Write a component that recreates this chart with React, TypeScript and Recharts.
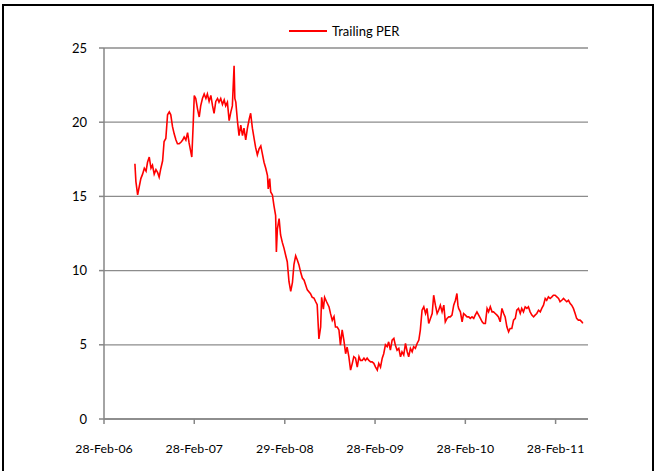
import React from 'react';
import { LineChart, Line, XAxis, YAxis, CartesianGrid } from 'recharts';

// x values are days after 28-Feb-2006
const days: number[] = [
  125, 129, 136, 143, 149, 156, 163, 170, 176, 183, 190, 196, 203, 210, 217, 223, 230, 237, 243, 250,
  257, 264, 270, 277, 284, 291, 297, 304, 311, 318, 324, 331, 338, 344, 351, 355, 361, 365, 371, 378,
  385, 391, 398, 405, 412, 418, 425, 432, 439, 445, 452,
  459, 465, 472, 479, 486, 492, 499, 506, 513, 519, 526, 529, 533, 540, 546, 553, 560, 566, 573, 580,
  587, 593, 600, 607, 613, 620, 627, 634, 640, 647, 654, 661, 664, 670, 674, 681, 687, 694, 697, 701,
  708, 714, 721, 728, 735, 741, 748, 755, 762, 768, 775, 782, 788, 795, 802,
  809, 822, 835, 842, 849, 856, 862, 869, 876, 880, 887, 892, 900, 910, 916, 923, 930, 936, 943, 950,
  956, 963, 970, 977, 983, 990, 997, 1004, 1010, 1017, 1024, 1031, 1037, 1044, 1051, 1057, 1064, 1071,
  1078, 1084, 1091, 1098, 1105, 1111, 1118, 1125, 1131, 1138,
  1145, 1151, 1158, 1165, 1172, 1178, 1185, 1192, 1199, 1205, 1212, 1219, 1226, 1232, 1239, 1246, 1252,
  1259, 1266, 1273, 1279, 1286, 1293, 1300, 1306, 1313, 1320, 1327, 1333, 1340, 1347, 1353, 1360, 1367,
  1374, 1380, 1387, 1394, 1400, 1407, 1414, 1421, 1427, 1431, 1434, 1441, 1448, 1454, 1461, 1468, 1475,
  1481, 1488, 1495, 1501, 1508, 1515, 1522, 1529, 1535, 1542,
  1549, 1555, 1562, 1569, 1575, 1582, 1589, 1595, 1602, 1609, 1616, 1622, 1629, 1636, 1642, 1649, 1656,
  1663, 1669, 1676, 1683, 1689, 1696, 1703, 1710, 1716, 1723, 1730, 1737, 1743, 1750, 1757, 1764, 1770,
  1777, 1784, 1790, 1797, 1804, 1811, 1817, 1824, 1831, 1838, 1844, 1851, 1858, 1865, 1871, 1878, 1885,
  1891, 1898, 1905, 1911, 1918, 1925, 1932, 1936,
];

const trailingPER: number[] = [
  17.2, 16.0, 15.1, 15.7, 16.2, 16.5, 16.9, 16.7, 17.3, 17.65, 16.9, 17.1, 16.5, 16.8, 16.6, 16.3, 16.9, 17.4, 18.7, 18.9,
  20.5, 20.7, 20.5, 19.7, 19.2, 18.8, 18.55, 18.55, 18.65, 18.8, 19.0, 18.8, 19.3, 18.6, 18.0, 17.65, 20.0, 21.8, 21.6, 20.9,
  20.35, 21.1, 21.6, 21.9, 21.6, 21.9, 21.4, 21.8, 21.1, 20.6, 21.4,
  21.6, 21.35, 21.6, 21.2, 21.5, 21.1, 21.35, 20.1, 20.7, 21.1, 23.8, 21.6, 21.35, 20.0, 19.1, 19.8, 19.1, 19.6, 18.8, 19.6,
  20.2, 20.6, 19.6, 18.9, 18.3, 17.8, 18.2, 18.4, 17.9, 17.3, 16.9, 16.4, 15.5, 16.2, 15.3, 15.1, 14.4, 13.7, 11.25, 12.8,
  13.5, 12.4, 11.9, 11.5, 11.0, 10.6, 9.25, 8.6, 9.2, 10.4, 11.0, 10.7, 10.4, 9.9, 9.5,
  9.35, 8.7, 8.45, 8.2, 8.15, 7.9, 7.7, 5.4, 6.2, 8.2, 7.4, 8.2, 7.9, 7.55, 7.1, 6.65, 6.9, 6.2, 6.2, 6.0,
  4.98, 6.0, 5.3, 4.4, 4.85, 4.2, 3.3, 3.75, 4.2, 4.1, 3.5, 4.2, 3.95, 3.95, 4.1, 3.95, 4.1, 3.95,
  3.85, 3.85, 3.75, 3.5, 3.3, 3.75, 3.5, 4.1, 4.4, 5.0,
  4.87, 5.2, 4.64, 5.32, 5.43, 4.98, 4.64, 4.76, 4.19, 4.53, 4.31, 5.09, 4.53, 4.19, 4.76, 4.53, 4.87,
  4.76, 5.09, 5.32, 5.99, 7.33, 7.56, 7.11, 7.45, 6.44, 6.78, 7.11, 8.34, 7.67, 7.11, 7.33, 7.67, 7.22,
  7.67, 6.55, 6.78, 6.88, 6.88, 7.0, 7.67, 8.0, 8.46, 7.67, 7.45, 7.22, 6.55, 7.11, 7.0, 6.88, 6.88,
  6.78, 6.88, 6.78, 7.0, 7.22, 7.0, 6.78, 6.55, 6.44, 6.44,
  7.45, 7.22, 7.56, 7.22, 7.22, 7.11, 7.0, 6.88, 6.55, 7.45, 7.11, 6.88, 6.21, 5.88, 6.1, 6.1, 6.66,
  6.78, 7.33, 7.45, 7.11, 7.45, 7.22, 7.56, 7.45, 7.56, 7.22, 7.0, 6.88, 7.0, 7.11, 7.33, 7.22, 7.45,
  7.67, 8.12, 8.0, 8.23, 8.12, 8.23, 8.34, 8.34, 8.23, 8.12, 7.9, 8.0, 8.12, 8.0, 7.9, 8.0, 7.78,
  7.67, 7.45, 7.11, 6.78, 6.66, 6.66, 6.55, 6.44,
];

const tickDays: number[] = [0, 365, 731, 1096, 1461, 1826];
const tickLabels: string[] = ['28-Feb-06', '28-Feb-07', '29-Feb-08', '28-Feb-09', '28-Feb-10', '28-Feb-11'];
const yTicks: number[] = [0, 5, 10, 15, 20, 25];
const seriesName = 'Trailing PER';

const data = days.map((d, i) => ({ d, v: trailingPER[i] }));

const FONT = 'Lato, "Open Sans", sans-serif';

export default function App() {
  return (
    <div style={{ position: 'absolute', left: 0, top: 0, width: 656, height: 471, background: '#fff', overflow: 'hidden' }}>
      <div
        style={{
          position: 'absolute', left: 2, top: 4, width: 652, height: 500,
          border: '2px solid #000', boxSizing: 'border-box',
        }}
      />
      <div style={{ position: 'absolute', left: 0, top: 0 }}>
        <LineChart width={656} height={471} data={data} margin={{ top: 48, right: 68, left: 0, bottom: 0 }}>
          <CartesianGrid vertical={false} stroke="#8c8c8c" strokeWidth={1.3} />
          <XAxis
            dataKey="d"
            type="number"
            domain={[0, 1957]}
            ticks={tickDays}
            tickFormatter={(t: number) => tickLabels[tickDays.indexOf(t)]}
            height={52}
            stroke="#868686"
            strokeWidth={1.5}
            tickSize={5}
            tickMargin={20}
            tick={{ fill: '#000', fontSize: 12.3, fontFamily: FONT }}
            interval={0}
            allowDataOverflow
          />
          <YAxis
            type="number"
            domain={[0, 25]}
            ticks={yTicks}
            width={104}
            stroke="#868686"
            strokeWidth={1.5}
            tickSize={5}
            tickMargin={12}
            tick={{ fill: '#000', fontSize: 13, fontFamily: FONT }}
            interval={0}
          />
          <Line
            type="linear"
            dataKey="v"
            name={seriesName}
            stroke="#ff0000"
            strokeWidth={1.6}
            dot={false}
            isAnimationActive={false}
          />
        </LineChart>
      </div>
      <div style={{ position: 'absolute', left: 289, top: 22, height: 18, display: 'flex', alignItems: 'center', fontFamily: FONT, fontSize: 13, color: '#000' }}>
        <div style={{ width: 38, height: 0, borderTop: '2px solid #ff0000', marginRight: 5 }} />
        <span>{seriesName}</span>
      </div>
    </div>
  );
}
